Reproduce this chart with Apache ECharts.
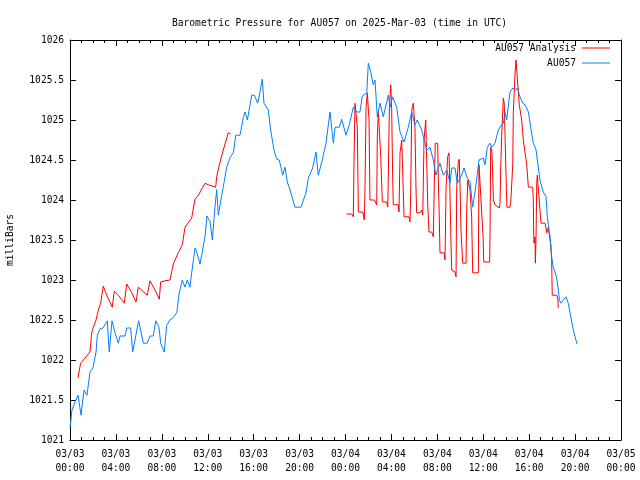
<!DOCTYPE html>
<html>
<head>
<meta charset="utf-8">
<script src="https://cdn.jsdelivr.net/npm/echarts@6/dist/echarts.min.js"></script>
<style>html,body{margin:0;padding:0;background:#fff}#c{width:640px;height:480px}</style>
</head>
<body>
<div id="c"></div>
<script>
// hours since 2025-03-03 00:00 UTC
const hourTicks = [0,4,8,12,16,20,24,28,32,36,40,44,48];
const tickDates = ['03/03','03/03','03/03','03/03','03/03','03/03','03/04','03/04','03/04','03/04','03/04','03/04','03/05'];
const tickTimes = ['00:00','04:00','08:00','12:00','16:00','20:00','00:00','04:00','08:00','12:00','16:00','20:00','00:00'];

const stationHours = [0,0.17,0.44,0.70,0.96,1.22,1.48,1.74,2.00,2.27,2.38,2.61,2.87,3.25,3.42,3.66,3.92,4.21,4.36,4.79,4.94,5.29,5.46,5.98,6.39,6.73,6.97,7.26,7.47,7.75,7.90,8.21,8.42,8.71,9.00,9.30,9.52,9.78,10.02,10.22,10.45,10.60,10.89,11.04,11.33,11.47,11.76,11.93,12.20,12.40,12.63,12.78,12.92,13.22,13.42,13.65,13.94,14.23,14.44,14.81,15.10,15.25,15.45,15.83,16.06,16.35,16.55,16.75,16.90,17.27,17.48,17.77,18.01,18.23,18.53,18.73,18.93,19.17,19.60,20.12,20.56,20.76,21.14,21.43,21.63,21.93,22.30,22.65,22.94,23.09,23.46,23.67,24.04,24.33,24.68,24.98,25.26,25.46,25.85,25.99,26.22,26.42,26.57,26.77,27.01,27.29,27.73,27.88,28.11,28.46,28.75,29.10,29.47,29.77,30.05,30.25,30.64,31.07,31.36,31.65,31.88,32.23,32.52,32.82,33.10,33.25,33.54,33.74,34.12,34.32,34.61,34.85,35.08,35.34,35.63,36.00,36.15,36.35,36.59,36.74,37.02,37.31,37.46,37.75,37.90,38.04,38.33,38.57,38.77,38.97,39.20,39.44,39.64,39.93,40.13,40.36,40.60,40.71,40.88,40.94,41.23,41.47,41.58,41.67,41.82,41.96,42.10,42.25,42.40,42.54,42.63,42.75,42.97,43.21,43.41,43.56,43.71,43.85,44.00,44.17];
const stationValues = [1021.15,1021.375,1021.475,1021.56,1021.31,1021.625,1021.56,1021.85,1021.9,1022.1,1022.31,1022.39,1022.4,1022.49,1022.1,1022.49,1022.34,1022.21,1022.3,1022.3,1022.4,1022.4,1022.1,1022.49,1022.21,1022.21,1022.3,1022.3,1022.49,1022.41,1022.21,1022.1,1022.43,1022.5,1022.53,1022.59,1022.84,1023.0,1022.91,1023.0,1022.91,1023.09,1023.4,1023.35,1023.2,1023.2,1023.54,1023.8,1023.73,1023.5,1023.91,1024.13,1023.81,1024.06,1024.22,1024.41,1024.53,1024.59,1024.81,1024.81,1025.03,1025.1,1025.0,1025.31,1025.31,1025.21,1025.35,1025.51,1025.21,1025.125,1024.875,1024.625,1024.51,1024.5,1024.31,1024.41,1024.225,1024.125,1023.91,1023.91,1024.09,1024.275,1024.4,1024.6,1024.31,1024.475,1024.71,1025.1,1024.71,1024.91,1024.91,1025.01,1024.81,1024.94,1025.16,1025.1,1025.1,1025.3,1025.34,1025.71,1025.59,1025.44,1025.5,1025.04,1025.21,1025.04,1025.31,1025.16,1025.29,1025.16,1024.85,1024.725,1024.91,1025.1,1024.94,1025.0,1024.875,1024.625,1024.66,1024.5,1024.31,1024.46,1024.31,1024.375,1024.21,1024.4,1024.4,1024.21,1024.31,1024.4,1024.275,1024.225,1023.91,1024.16,1024.5,1024.525,1024.44,1024.66,1024.71,1024.66,1024.71,1024.875,1024.91,1024.96,1025.09,1025.0,1025.35,1025.4,1025.375,1025.4,1025.29,1025.21,1025.19,1025.1,1024.91,1024.71,1024.625,1024.5,1024.525,1024.25,1024.1,1024.04,1023.79,1023.69,1023.54,1023.29,1023.16,1023.1,1023.025,1022.875,1022.75,1022.71,1022.75,1022.79,1022.71,1022.59,1022.475,1022.375,1022.29,1022.2];

const analysisDay1Hours = [0.70,0.81,0.93,1.31,1.74,1.89,2.03,2.27,2.47,2.67,2.90,3.20,3.48,3.68,3.86,4.21,4.73,4.94,5.38,5.75,5.95,6.73,6.97,7.40,7.78,7.90,8.28,8.71,9.00,9.43,9.78,10.02,10.60,10.89,11.18,11.76,12.05,12.69,12.78,13.01,13.35,13.79,14.00];
const analysisDay1Values = [1021.775,1021.875,1021.96,1022.025,1022.1,1022.34,1022.41,1022.5,1022.625,1022.71,1022.925,1022.81,1022.725,1022.66,1022.86,1022.81,1022.71,1022.95,1022.84,1022.725,1022.91,1022.81,1022.99,1022.875,1022.76,1022.975,1022.99,1023.0,1023.2,1023.34,1023.44,1023.66,1023.775,1024.01,1024.06,1024.21,1024.19,1024.16,1024.29,1024.44,1024.625,1024.84,1024.825];

const analysisDay2Hours = [24.10,24.54,24.68,24.74,24.83,24.92,25.03,25.12,25.50,25.64,25.70,25.79,25.90,26.05,26.13,26.51,26.72,26.77,26.86,27.01,27.07,27.21,27.59,27.68,27.73,27.82,27.94,28.02,28.11,28.16,28.60,28.66,28.75,28.90,29.04,29.10,29.53,29.62,29.68,29.77,29.91,30.05,30.14,30.20,30.49,30.64,30.73,30.84,30.99,31.07,31.16,31.27,31.51,31.65,31.74,31.82,32.03,32.08,32.17,32.23,32.58,32.67,32.76,32.90,33.02,33.10,33.19,33.25,33.54,33.63,33.69,33.83,33.91,33.98,34.06,34.21,34.50,34.56,34.65,34.79,34.85,34.99,35.08,35.57,35.63,35.78,35.99,36.04,36.56,36.59,36.65,36.74,36.82,36.88,37.02,37.40,37.46,37.52,37.60,37.75,37.83,37.90,38.04,38.07,38.33,38.39,38.57,38.62,38.77,38.85,38.97,39.14,39.35,39.49,39.79,39.93,40.31,40.36,40.39,40.42,40.51,40.54,40.60,40.66,40.71,40.94,41.03,41.38,41.47,41.53,41.67,41.82,41.88,41.96,42.01,42.40,42.49,42.54];
const analysisDay2Values = [1023.825,1023.825,1023.79,1024.46,1025.21,1025.225,1024.91,1023.85,1023.85,1023.75,1024.16,1025.16,1025.34,1025.0,1024.0,1024.0,1023.94,1024.79,1025.1,1025.09,1024.54,1023.975,1023.975,1023.91,1024.29,1025.15,1025.44,1025.15,1024.29,1023.94,1023.94,1023.85,1024.59,1024.75,1024.725,1023.79,1023.79,1023.725,1024.09,1025.125,1025.21,1024.91,1024.16,1023.84,1023.84,1023.875,1023.81,1024.75,1025.0,1025.025,1023.96,1023.6,1023.6,1023.54,1024.225,1024.71,1024.71,1024.29,1023.775,1023.34,1023.34,1023.25,1024.16,1024.54,1024.59,1024.09,1023.46,1023.125,1023.1,1023.04,1024.16,1024.475,1024.51,1024.16,1023.625,1023.21,1023.21,1023.875,1024.25,1024.25,1024.125,1023.79,1023.09,1023.09,1024.44,1024.44,1023.525,1023.225,1023.225,1023.58,1024.66,1024.625,1024.34,1024.0,1023.94,1023.9,1023.96,1024.375,1024.79,1025.275,1025.21,1024.79,1024.0,1023.91,1023.91,1023.96,1024.44,1025.09,1025.59,1025.75,1025.525,1025.19,1025.0,1024.75,1024.44,1024.16,1024.16,1024.0,1023.625,1023.46,1023.54,1023.21,1023.54,1024.21,1024.31,1023.875,1023.71,1023.71,1023.65,1023.59,1023.66,1023.66,1023.44,1023.25,1022.81,1022.81,1022.775,1022.65];

const zip = (xs, ys) => xs.map((x, i) => [x, ys[i]]);
const FONT = 'DejaVu Sans Mono';
const FS = 9.6;

const chart = echarts.init(document.getElementById('c'), null, {renderer: 'canvas'});
const baseX = {
  type: 'value', min: 0, max: 48, interval: 4,
  axisLine: {show: true, onZero: false, lineStyle: {color: '#000', width: 1}},
  axisTick: {show: true, inside: true, length: 6, lineStyle: {color: '#000'}},
  minorTick: {show: true, splitNumber: 4, length: 3, lineStyle: {color: '#000'}},
  splitLine: {show: false}
};
const baseY = {
  type: 'value', min: 1021, max: 1026, interval: 0.5,
  axisLine: {show: true, onZero: false, lineStyle: {color: '#000', width: 1}},
  axisTick: {show: true, inside: true, length: 6, lineStyle: {color: '#000'}},
  splitLine: {show: false}
};
const option = {
  animation: false,
  backgroundColor: '#fff',
  textStyle: {fontFamily: FONT},
  title: {
    text: 'Barometric Pressure for AU057 on 2025-Mar-03 (time in UTC)',
    left: 167, top: 13,
    textStyle: {fontFamily: FONT, fontSize: FS, fontWeight: 'normal', color: '#000'}
  },
  legend: [
    {data: ['AU057 Analysis'], right: 30, top: 43, padding: 0, align: 'right', icon: 'rect', itemWidth: 28, itemHeight: 1,
     textStyle: {fontFamily: FONT, fontSize: FS, color: '#000', padding: [0, 1, 0, 0]}},
    {data: ['AU057'], right: 30, top: 58, padding: 0, align: 'right', icon: 'rect', itemWidth: 28, itemHeight: 1,
     textStyle: {fontFamily: FONT, fontSize: FS, color: '#000', padding: [0, 1, 0, 0]}}
  ],
  grid: {left: 70, right: 19, top: 40, bottom: 40, containLabel: false, outerBoundsMode: 'none'},
  xAxis: [
    Object.assign({}, baseX, {
      position: 'bottom',
      axisLabel: {
        margin: 7, lineHeight: 14, fontFamily: FONT, fontSize: FS, color: '#000',
        formatter: v => { const i = hourTicks.indexOf(v); return i < 0 ? '' : tickDates[i] + '\n' + tickTimes[i]; }
      }
    }),
    Object.assign({}, baseX, {position: 'top', axisLabel: {show: false}})
  ],
  yAxis: [
    Object.assign({}, baseY, {
      position: 'left',
      name: 'milliBars', nameLocation: 'middle', nameGap: 55, nameRotate: 90,
      nameTextStyle: {fontFamily: FONT, fontSize: FS, color: '#000'},
      axisLabel: {margin: 6, fontFamily: FONT, fontSize: FS, color: '#000', formatter: v => String(v)}
    }),
    Object.assign({}, baseY, {position: 'right', axisLabel: {show: false}})
  ],
  series: [
    {name: 'AU057 Analysis', type: 'line', data: zip(analysisDay1Hours, analysisDay1Values), showSymbol: false, symbol: 'none',
     color: '#ff0000', lineStyle: {color: '#ff0000', width: 1}, z: 2},
    {name: 'AU057 Analysis', type: 'line', data: zip(analysisDay2Hours, analysisDay2Values), showSymbol: false, symbol: 'none',
     color: '#ff0000', lineStyle: {color: '#ff0000', width: 1}, z: 2},
    {name: 'AU057', type: 'line', data: zip(stationHours, stationValues), showSymbol: false, symbol: 'none',
     color: '#0080ff', lineStyle: {color: '#0080ff', width: 1}, z: 3}
  ]
};
chart.setOption(option);
</script>
</body>
</html>
